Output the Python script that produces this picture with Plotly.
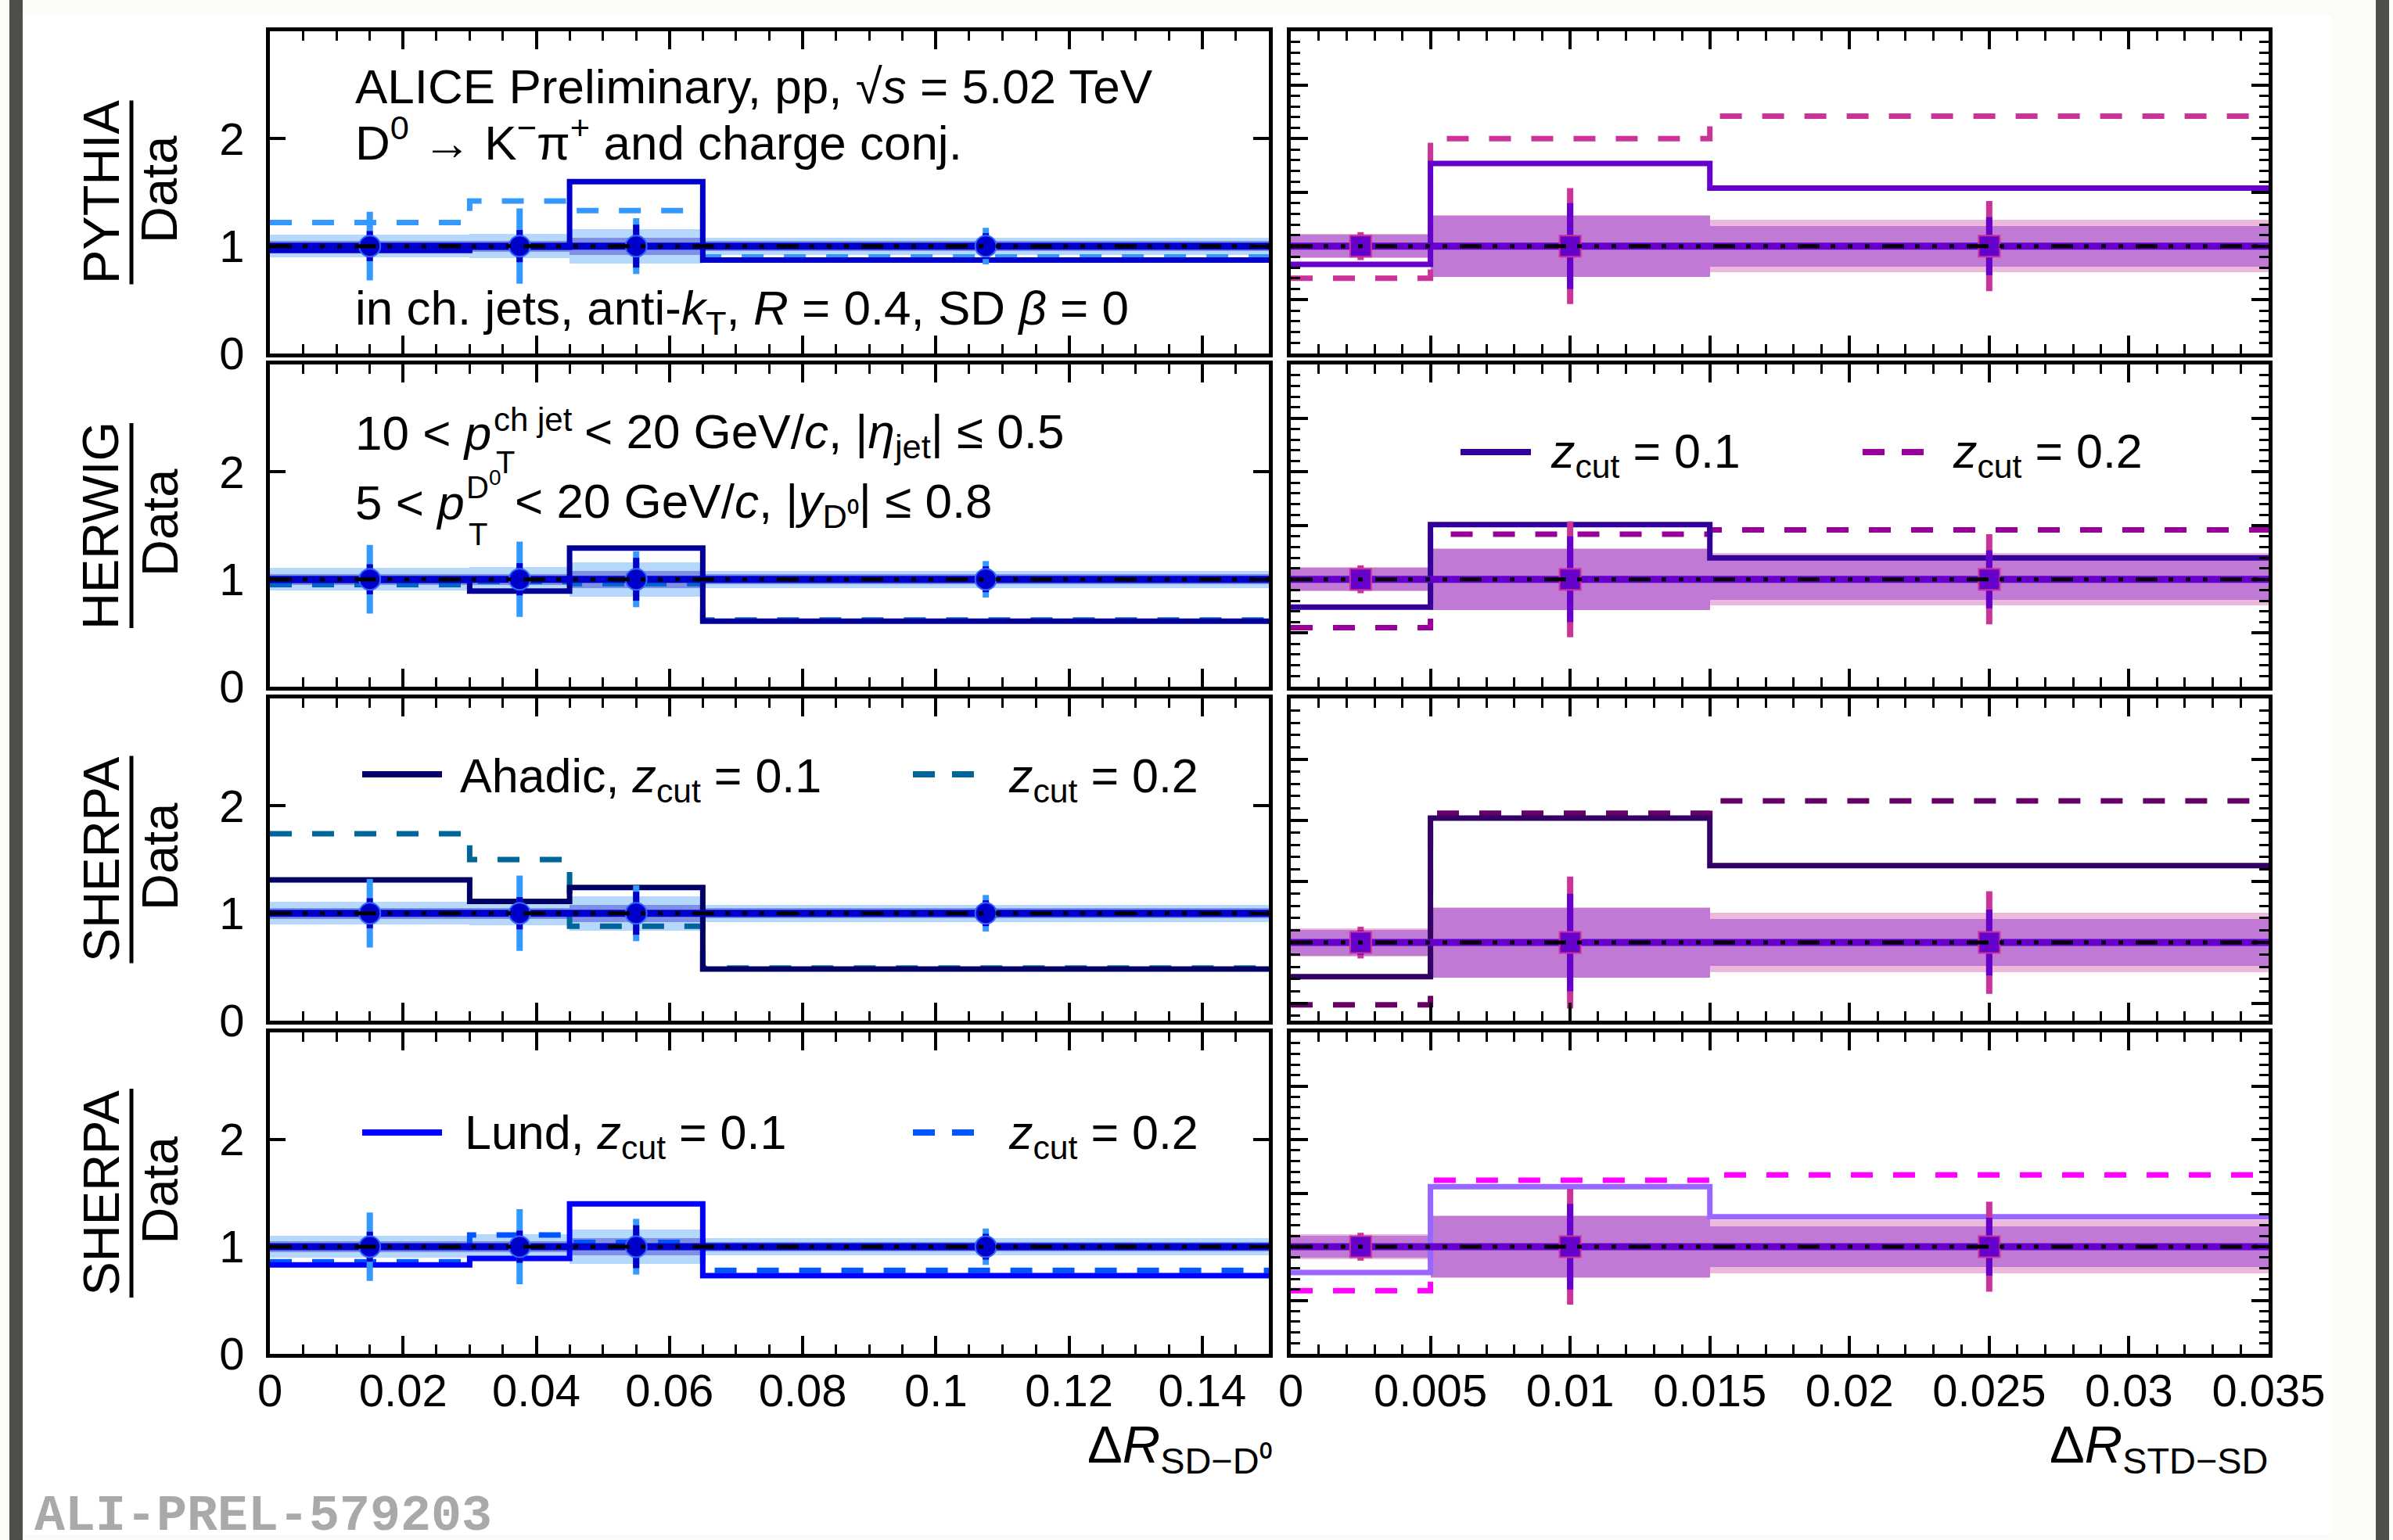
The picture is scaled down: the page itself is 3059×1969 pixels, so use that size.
import plotly.graph_objects as go

W, H = 3059, 1969
FONT = "Liberation Sans, Arial, Helvetica, sans-serif"

# ---------------- binning ----------------
left_edges = [0.0, 0.03, 0.045, 0.065, 0.15]
left_centers = [0.015, 0.0375, 0.055, 0.1075]
right_edges = [0.0, 0.005, 0.015, 0.035]
right_centers = [0.0025, 0.01, 0.025]

left_ticks = [0, 0.02, 0.04, 0.06, 0.08, 0.1, 0.12, 0.14]
left_ticktext = ["0", "0.02", "0.04", "0.06", "0.08", "0.1", "0.12", "0.14"]
right_ticks = [0, 0.005, 0.01, 0.015, 0.02, 0.025, 0.03, 0.035]
right_ticktext = ["0", "0.005", "0.01", "0.015", "0.02", "0.025", "0.03", "0.035"]

# ---------------- data (ratio to itself) ----------------
data_left = [1.0, 1.0, 1.0, 1.0]
data_right = [1.0, 1.0, 1.0]
left_err_stat = [0.14, 0.15, 0.20, 0.12]
left_err_tot = [0.32, 0.35, 0.26, 0.17]
left_band_outer = [0.105, 0.115, 0.16, 0.08]
left_band_inner = [0.05, 0.05, 0.08, 0.045]
right_err_stat = [0.10, 0.40, 0.27]
right_err_tot = [0.13, 0.54, 0.42]
right_band_outer = [0.115, 0.29, 0.245]
right_band_inner = [0.105, 0.285, 0.19]

# ---------------- model / data ratios ----------------
pythia_left_z01 = [0.96, 0.99, 1.60, 0.87]
pythia_left_z02 = [1.22, 1.42, 1.33, 0.90]
pythia_right_z01 = [0.83, 1.77, 1.54]
pythia_right_z02 = [0.70, 2.00, 2.21]

herwig_left_z01 = [0.99, 0.89, 1.29, 0.61]
herwig_left_z02 = [0.95, 0.98, 0.96, 0.62]
herwig_right_z01 = [0.74, 1.51, 1.20]
herwig_right_z02 = [0.55, 1.42, 1.46]

ahadic_left_z01 = [1.31, 1.11, 1.24, 0.48]
ahadic_left_z02 = [1.74, 1.50, 0.88, 0.49]
ahadic_right_z01 = [0.72, 2.02, 1.63]
ahadic_right_z02 = [0.49, 2.06, 2.16]

lund_left_z01 = [0.83, 0.89, 1.40, 0.73]
lund_left_z02 = [0.86, 1.11, 1.04, 0.78]
lund_right_z01 = [0.76, 1.56, 1.28]
lund_right_z02 = [0.59, 1.62, 1.67]

row_names = ["PYTHIA", "HERWIG", "SHERPA", "SHERPA"]
row_models = [
    (pythia_left_z01, pythia_left_z02, pythia_right_z01, pythia_right_z02),
    (herwig_left_z01, herwig_left_z02, herwig_right_z01, herwig_right_z02),
    (ahadic_left_z01, ahadic_left_z02, ahadic_right_z01, ahadic_right_z02),
    (lund_left_z01, lund_left_z02, lund_right_z01, lund_right_z02),
]
row_colors = [
    ("#0000cc", "#3399ff", "#6600cc", "#cc3399"),
    ("#000099", "#0066cc", "#330099", "#990099"),
    ("#000066", "#006699", "#330066", "#660066"),
    ("#0000ff", "#0055ff", "#9966ff", "#ff00ff"),
]
right_yranges = [[0, 3], [0, 3], [0.36, 3], [0, 3]]

# ---------------- page geometry (pixels) ----------------
LEFT_X = (345, 1622)
RIGHT_X = (1650, 2900)
ROWS_Y = [(40, 452), (466, 878), (893, 1305), (1320, 1731)]


def px(x):
    return x / W


def py(y):
    return 1 - y / H


fig = go.Figure()

DASH_MODEL = "28px,26px"
DASH_DATA = "28px,14px,6px,16px,6px,16px,6px,16px"


def step(edges, vals):
    return list(edges), list(vals) + [vals[-1]]


def add_panel(xa, ya, edges, centers, models, side):
    if side == "left":
        b_out, b_in = left_band_outer, left_band_inner
        e_tot, e_stat = left_err_tot, left_err_stat
        data = data_left
        c_bout, c_bin = "#b5d8fc", "#7d8fe6"
        c_etot, c_estat = "#3399ff", "#0000cc"
        c_data = "#0000cc"
        msym, mcol, mline = "circle", "#0000cc", "#3366ff"
    else:
        b_out, b_in = right_band_outer, right_band_inner
        e_tot, e_stat = right_err_tot, right_err_stat
        data = data_right
        c_bout, c_bin = "#ecb8dc", "#c07ad6"
        c_etot, c_estat = "#cc3399", "#6600cc"
        c_data = "#6600cc"
        msym, mcol, mline = "square", "#6600cc", "#cc3399"
    widths = [edges[i + 1] - edges[i] for i in range(len(centers))]
    for band, col in ((b_out, c_bout), (b_in, c_bin)):
        fig.add_trace(go.Bar(
            x=centers, y=[2 * b for b in band],
            base=[d - b for d, b in zip(data, band)],
            width=widths, marker=dict(color=col, line=dict(width=0)),
            xaxis=xa, yaxis=ya))
    solid, dashed, c_solid, c_dashed = models
    xs, ys = step(edges, dashed)
    fig.add_trace(go.Scatter(x=xs, y=ys, mode="lines", line_shape="hv",
                             line=dict(color=c_dashed, width=7, dash=DASH_MODEL),
                             xaxis=xa, yaxis=ya))
    xs, ys = step(edges, solid)
    fig.add_trace(go.Scatter(x=xs, y=ys, mode="lines", line_shape="hv",
                             line=dict(color=c_solid, width=7),
                             xaxis=xa, yaxis=ya))
    xs, ys = step(edges, data)
    fig.add_trace(go.Scatter(x=xs, y=ys, mode="lines", line_shape="hv",
                             line=dict(color=c_data, width=9),
                             xaxis=xa, yaxis=ya))
    for err, col in ((e_tot, c_etot), (e_stat, c_estat)):
        fig.add_trace(go.Scatter(
            x=centers, y=data, mode="markers",
            marker=dict(size=1, color="rgba(0,0,0,0)"),
            error_y=dict(type="data", array=err, visible=True,
                         thickness=8, width=0, color=col),
            xaxis=xa, yaxis=ya))
    fig.add_trace(go.Scatter(
        x=centers, y=data, mode="markers",
        marker=dict(symbol=msym, size=27, color=mcol,
                    line=dict(color=mline, width=2)),
        xaxis=xa, yaxis=ya))
    fig.add_trace(go.Scatter(x=[edges[0], edges[-1]], y=[data[0], data[-1]],
                             mode="lines",
                             line=dict(color="black", width=5, dash=DASH_DATA),
                             xaxis=xa, yaxis=ya))


axes = {}
tickfont = dict(family=FONT, size=58, color="black")
for r in range(4):
    y0, y1 = ROWS_Y[r]
    ydom = [py(y1), py(y0)]
    sl, dl, sr, dr = row_models[r]
    cl_s, cl_d, cr_s, cr_d = row_colors[r]
    for c in range(2):
        idx = 2 * r + c + 1
        xa = "x" if idx == 1 else f"x{idx}"
        ya = "y" if idx == 1 else f"y{idx}"
        xkey = "xaxis" if idx == 1 else f"xaxis{idx}"
        ykey = "yaxis" if idx == 1 else f"yaxis{idx}"
        xs_px = LEFT_X if c == 0 else RIGHT_X
        common = dict(showline=True, linewidth=5, linecolor="black",
                      mirror="allticks", showgrid=False, zeroline=False,
                      automargin=False, ticks="inside", tickcolor="black",
                      tickfont=tickfont)
        if c == 0:
            axes[xkey] = dict(
                domain=[px(xs_px[0]), px(xs_px[1])], anchor=ya,
                range=[0, 0.15], tickmode="array", tickvals=left_ticks,
                ticktext=left_ticktext, ticklen=23, tickwidth=4,
                minor=dict(ticks="inside", tickmode="linear", tick0=0,
                           dtick=0.005, ticklen=12, tickwidth=3,
                           tickcolor="black"),
                showticklabels=(r == 3), ticklabelstandoff=-8, **common)
            axes[ykey] = dict(
                domain=ydom, anchor=xa, range=[0, 3], tickmode="array",
                tickvals=[0, 1, 2], ticktext=["0", "1", "2"],
                ticklen=20, tickwidth=4, ticklabelstandoff=16, **common)
            add_panel(xa, ya, left_edges, left_centers,
                      (sl, dl, cl_s, cl_d), "left")
        else:
            axes[xkey] = dict(
                domain=[px(xs_px[0]), px(xs_px[1])], anchor=ya,
                range=[0, 0.035], tickmode="array", tickvals=right_ticks,
                ticktext=right_ticktext, ticklen=23, tickwidth=4,
                minor=dict(ticks="inside", tickmode="linear", tick0=0,
                           dtick=0.001, ticklen=12, tickwidth=3,
                           tickcolor="black"),
                showticklabels=(r == 3), ticklabelstandoff=-8, **common)
            axes[ykey] = dict(
                domain=ydom, anchor=xa, range=right_yranges[r],
                tickmode="linear", tick0=0, dtick=0.5, ticklen=22,
                tickwidth=4,
                minor=dict(ticks="inside", tickmode="linear", tick0=0,
                           dtick=0.1, ticklen=12, tickwidth=3,
                           tickcolor="black"),
                showticklabels=False, **common)
            add_panel(xa, ya, right_edges, right_centers,
                      (sr, dr, cr_s, cr_d), "right")

# ---------------- texts ----------------
annotations = []


def text(t, x, y, size=62, xanchor="left", angle=0, color="black",
         family=FONT, yanchor="middle", yref_px=True):
    annotations.append(dict(
        text=t, x=px(x), y=py(y) if yref_px else y, xref="paper",
        yref="paper", xanchor=xanchor, yanchor=yanchor, showarrow=False,
        borderpad=0, textangle=angle,
        font=dict(family=family, size=size, color=color)))


# y-axis fraction labels
bar_len = [235, 262, 265, 267]
shapes = []
for r in range(4):
    cy = (ROWS_Y[r][0] + ROWS_Y[r][1]) / 2
    text(row_names[r], 129, cy, size=65, xanchor="center", angle=-90)
    text("Data", 204, cy - 4, size=65, xanchor="center", angle=-90)
    shapes.append(dict(type="line", xref="paper", yref="paper",
                       x0=px(168), x1=px(168),
                       y0=py(cy - bar_len[r] / 2), y1=py(cy + bar_len[r] / 2),
                       line=dict(color="black", width=5)))

# PYTHIA panel texts
text("ALICE Preliminary, pp, √<i>s</i> = 5.02 TeV", 453, 110)
text("D<sup>0</sup> → K<sup>−</sup>π<sup>+</sup> and charge conj.", 453, 178)
text("in ch. jets, anti-<i>k</i><sub>T</sub>, <i>R</i> = 0.4, SD <i>β</i> = 0",
     453, 398)

# HERWIG panel kinematic selection
text("10 < <i>p</i>", 453, 553)
text("ch jet", 630, 536, size=42)
text("T", 633, 591, size=40)
text("< 20 GeV/<i>c</i>, |<i>η</i><sub>jet</sub>| ≤ 0.5", 746, 556)
text("5 < <i>p</i>", 453, 642)
text("D<sup>0</sup>", 595, 620, size=40)
text("T", 598, 683, size=40)
text("< 20 GeV/<i>c</i>, |<i>y</i><sub>D⁰</sub>| ≤ 0.8", 657, 645)


# legends
def legend_line(x0, x1, y, color, dash=None):
    shapes.append(dict(type="line", xref="paper", yref="paper",
                       x0=px(x0), x1=px(x1), y0=py(y), y1=py(y),
                       line=dict(color=color, width=8, dash=dash or "solid")))


legend_line(1867, 1957, 578, row_colors[1][2])
text("<i>z</i><sub>cut</sub> = 0.1", 1981, 582, size=61)
legend_line(2381, 2470, 578, row_colors[1][3], "28px,22px")
text("<i>z</i><sub>cut</sub> = 0.2", 2495, 582, size=61)

legend_line(463, 565, 990, row_colors[2][0])
text("Ahadic, <i>z</i><sub>cut</sub> = 0.1", 587, 996, size=61)
legend_line(1167, 1258, 990, row_colors[2][1], "28px,22px")
text("<i>z</i><sub>cut</sub> = 0.2", 1288, 996, size=61)

legend_line(463, 565, 1448, row_colors[3][0])
text("Lund, <i>z</i><sub>cut</sub> = 0.1", 593, 1452, size=61)
legend_line(1167, 1258, 1448, row_colors[3][1], "28px,22px")
text("<i>z</i><sub>cut</sub> = 0.2", 1288, 1452, size=61)

# axis titles
text("Δ<i>R</i><sub>SD−D⁰</sub>", 1627, 1851, size=67, xanchor="right")
text("Δ<i>R</i><sub>STD−SD</sub>", 2900, 1851, size=67, xanchor="right")

# figure id
text("<b>ALI-PREL-579203</b>", 43, -0.004, size=65, color="#a9a9a9",
     family="Liberation Mono, Courier New, monospace", yanchor="bottom",
     yref_px=False)

# page framing
shapes = [
    dict(type="rect", xref="paper", yref="paper", x0=px(30), x1=px(2980),
         y0=py(1962), y1=py(19), fillcolor="white", line=dict(width=0),
         layer="below"),
    dict(type="rect", xref="paper", yref="paper", x0=px(12), x1=px(29),
         y0=0, y1=1, fillcolor="#4f4e4a", line=dict(width=0), layer="below"),
    dict(type="rect", xref="paper", yref="paper", x0=px(3037), x1=px(3054),
         y0=0, y1=1, fillcolor="#4f4e4a", line=dict(width=0), layer="below"),
] + shapes

fig.update_layout(
    width=W, height=H, margin=dict(l=0, r=0, t=0, b=0, autoexpand=False),
    paper_bgcolor="#fbfbf8", plot_bgcolor="white",
    barmode="overlay", bargap=0, showlegend=False, hovermode=False,
    font=dict(family=FONT, size=58, color="black"),
    annotations=annotations, shapes=shapes, **axes)

fig.write_html("out.html")
